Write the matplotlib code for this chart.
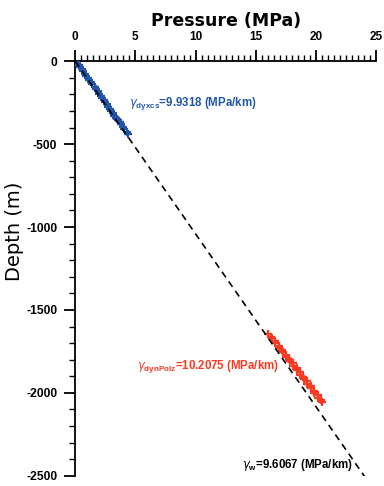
import matplotlib
matplotlib.use("Agg")
import matplotlib.pyplot as plt
from matplotlib.ticker import MultipleLocator, FuncFormatter

# Shallow interval (blue) pressure measurements: depth (m), pressure (MPa)
blue_depth = [-8, -20, -35, -48, -60, -75, -88, -100, -115, -128, -140, -155,
              -168, -180, -195, -208, -220, -235, -248, -260, -275, -288, -300,
              -315, -328, -340, -355, -368, -380, -395, -410, -425, -440]
blue_pressure = [0.12, 0.28, 0.38, 0.55, 0.64, 0.82, 0.90, 1.06, 1.18, 1.33,
                 1.42, 1.60, 1.70, 1.85, 1.95, 2.12, 2.20, 2.38, 2.47, 2.62,
                 2.73, 2.90, 2.99, 3.17, 3.26, 3.42, 3.53, 3.70, 3.80, 3.97,
                 4.09, 4.27, 4.38]

# Deep interval (red) pressure measurements
red_depth = [-1645, -1660, -1672, -1688, -1700, -1715, -1728, -1742, -1755,
             -1770, -1782, -1796, -1810, -1822, -1836, -1850, -1862, -1876,
             -1890, -1902, -1916, -1930, -1944, -1958, -1972, -1986, -2000,
             -2014, -2028, -2042, -2055]
red_pressure = [16.02, 16.30, 16.35, 16.62, 16.64, 16.92, 16.95, 17.20, 17.24,
                17.52, 17.53, 17.80, 17.84, 18.08, 18.12, 18.40, 18.40, 18.66,
                18.70, 18.95, 18.98, 19.26, 19.28, 19.56, 19.58, 19.85, 19.88,
                20.16, 20.18, 20.46, 20.50]

# Hydrostatic gradient (MPa/km)
gamma_w = 9.6067
line_pressure = [0.0, 25.0]

fig = plt.figure(figsize=(3.84, 4.86), dpi=100)
ax = fig.add_axes([0.196, 0.021, 0.783, 0.853])

ax.scatter(blue_pressure, blue_depth, marker='+', s=36, linewidths=1.6,
           color='#2356a8', zorder=3)
ax.scatter(red_pressure, red_depth, marker='+', s=36, linewidths=1.6,
           color='#f83a22', zorder=3)
ax.plot(line_pressure, [-p / gamma_w * 1000 for p in line_pressure],
        color='black', linestyle=(0, (4, 3)), linewidth=1.2, zorder=4)

ax.set_xlim(0, 25)
ax.set_ylim(-2500, 0)

ax.spines['right'].set_visible(False)
ax.spines['bottom'].set_visible(False)
ax.spines['left'].set_linewidth(1.3)
ax.spines['top'].set_linewidth(1.3)

ax.xaxis.set_ticks_position('top')
ax.xaxis.set_label_position('top')
ax.xaxis.set_major_locator(MultipleLocator(5))
ax.xaxis.set_minor_locator(MultipleLocator(0.5))
ax.yaxis.set_major_locator(MultipleLocator(500))
ax.yaxis.set_minor_locator(MultipleLocator(100))
fmt = FuncFormatter(lambda v, pos: f"{v:.0f}".replace('\u2212', '-'))
ax.xaxis.set_major_formatter(fmt)
ax.yaxis.set_major_formatter(fmt)
ax.tick_params(axis='both', which='major', length=8, width=1.3, direction='out')
ax.tick_params(axis='x', which='major', pad=5, labelsize=8.5)
ax.tick_params(axis='y', which='major', pad=5, labelsize=8.7)
ax.tick_params(axis='both', which='minor', length=4, width=1.0, direction='out')
for lab in ax.get_xticklabels() + ax.get_yticklabels():
    lab.set_fontweight('bold')
    lab.set_family('Liberation Sans')

ax.set_xlabel('Pressure (MPa)', fontsize=12.5, fontweight='bold', labelpad=4)
ax.set_ylabel('Depth (m)', fontsize=14)
ax.yaxis.set_label_coords(-0.17, 0.59)

txt = dict(fontsize=8.3, fontweight='bold', family='Liberation Sans',
           va='center', ha='left')
ax.text(4.5, -252, r'$\gamma_{\mathregular{dyxcs}}$=9.9318 (MPa/km)',
        color='#2356a8', **txt)
ax.text(5.1, -1839, r'$\gamma_{\mathregular{dynPolz}}$=10.2075 (MPa/km)',
        color='#f83a22', **txt)
ax.text(13.9, -2434, r'$\gamma_{\mathregular{w}}$=9.6067 (MPa/km)',
        color='black', **txt)

fig.savefig('out.png', dpi=100)
